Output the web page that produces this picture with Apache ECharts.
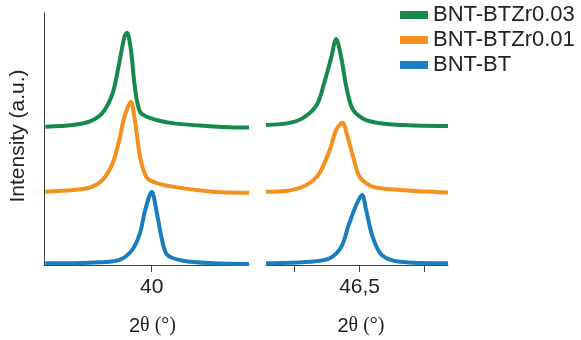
<!DOCTYPE html>
<html>
<head>
<meta charset="utf-8">
<script src="https://cdn.jsdelivr.net/npm/echarts@6/dist/echarts.min.js"></script>
<style>
  html, body { margin: 0; padding: 0; background: #fff; }
  #chart { width: 581px; height: 340px; }
</style>
</head>
<body>
<div id="chart"></div>
<script>
// Sample names, stacked top to bottom
const samples = ['BNT-BTZr0.03', 'BNT-BTZr0.01', 'BNT-BT'];
const colors = ['#168a4a', '#f4901e', '#1a7dbf'];
// Vertical offset applied to each pattern in the stack (a.u.)
const offsets = [54, 28, 0];

// Diffraction data around the (111) reflection: [2θ, intensity a.u.]
const peak111Zr003 = [[39.18,0.9],[39.39,1.6],[39.52,2.9],[39.62,6.3],[39.70,14.3],[39.75,26.2],[39.79,36.6],[39.81,38.2],[39.84,31.3],[39.87,16.8],[39.91,6.8],[39.99,4.3],[40.16,2.3],[40.42,1.2],[40.70,0.6],[40.75,0.6]];
const peak111Zr001 = [[39.18,1.1],[39.39,1.8],[39.52,2.7],[39.62,5.7],[39.70,12.5],[39.75,21.6],[39.79,30.8],[39.84,36.8],[39.87,29.5],[39.91,15.0],[39.96,6.9],[40.04,4.5],[40.22,2.6],[40.47,1.1],[40.73,0.7],[40.75,0.7]];
const peak111BT = [[39.18,0.7],[39.52,0.9],[39.75,2.0],[39.85,6.0],[39.91,12.7],[39.95,21.8],[40.00,29.1],[40.04,20.6],[40.08,9.9],[40.12,4.0],[40.24,1.7],[40.47,0.7],[40.75,0.4]];

// Diffraction data around the (200) reflection: [2θ, intensity a.u.]
const peak200Zr003 = [[45.78,1.6],[45.94,2.2],[46.06,4.2],[46.17,9.5],[46.23,18.7],[46.28,28.0],[46.32,35.7],[46.36,28.0],[46.40,16.1],[46.45,7.5],[46.55,3.5],[46.75,1.8],[47.18,1.2]];
const peak200Zr001 = [[45.78,1.1],[45.94,1.4],[46.09,3.7],[46.19,8.4],[46.27,17.6],[46.32,25.6],[46.37,28.5],[46.40,24.3],[46.45,15.0],[46.50,7.0],[46.60,3.1],[46.81,1.8],[47.18,0.8]];
const peak200BT = [[45.78,0.7],[46.12,1.3],[46.27,2.7],[46.36,7.3],[46.42,16.5],[46.48,24.5],[46.52,27.8],[46.55,21.8],[46.60,11.2],[46.67,4.0],[46.81,1.3],[47.18,0.7]];

const leftData = [peak111Zr003, peak111Zr001, peak111BT];
const rightData = [peak200Zr003, peak200Zr001, peak200BT];

// Axis ranges and ticks
const leftRange = [39.17, 40.75];
const rightRange = [45.78, 47.18];
const leftTicks = [40];
const leftLabels = [40];
const rightTicks = [46, 46.5, 47];
const rightLabels = [46.5];

const axisColor = '#444';
const sansFont = '"Liberation Sans", Arial, sans-serif';
const serifFont = '"Liberation Serif", "Times New Roman", serif';

function xAxisFor(gridIndex, range, ticks, labels, padLeft) {
  return {
    type: 'value',
    gridIndex: gridIndex,
    min: range[0],
    max: range[1],
    name: '{a|2}{b|θ (°)}',
    nameLocation: 'middle',
    nameGap: 51,
    nameTextStyle: {
      padding: [0, 0, 0, padLeft],
      rich: {
        a: { fontFamily: sansFont, fontSize: 20, color: '#222' },
        b: { fontFamily: serifFont, fontSize: 20, color: '#222' }
      }
    },
    axisLine: { show: true, lineStyle: { color: axisColor, width: 1 } },
    axisTick: { show: true, length: 7, customValues: ticks, lineStyle: { color: axisColor } },
    axisLabel: {
      show: true, customValues: labels, margin: 12,
      fontFamily: sansFont, fontSize: 21, color: '#222',
      formatter: v => String(v).replace('.', ',')
    },
    splitLine: { show: false }
  };
}

const series = [];
samples.forEach((name, i) => {
  [leftData[i], rightData[i]].forEach((pts, panel) => {
    series.push({
      name: name,
      type: 'line',
      xAxisIndex: panel,
      yAxisIndex: panel,
      data: pts.map(p => [p[0], p[1] + offsets[i]]),
      smooth: 0.3,
      showSymbol: false,
      symbol: 'none',
      clip: true,
      color: colors[i],
      lineStyle: { width: 4, color: colors[i], join: 'round', cap: 'butt' },
      z: 3 + i
    });
  });
});

const chart = echarts.init(document.getElementById('chart'), null, { renderer: 'canvas' });
chart.setOption({
  animation: false,
  backgroundColor: '#fff',
  grid: [
    { left: 44, top: 13, width: 205, height: 252, outerBoundsMode: 'none', containLabel: false },
    { left: 266, top: 13, width: 182, height: 252, outerBoundsMode: 'none', containLabel: false }
  ],
  legend: {
    data: samples,
    orient: 'vertical',
    left: 400,
    top: 4,
    padding: 0,
    itemGap: 3,
    itemWidth: 28,
    itemHeight: 8,
    icon: 'rect',
    textStyle: { fontFamily: sansFont, fontSize: 22, color: '#222' }
  },
  xAxis: [
    xAxisFor(0, leftRange, leftTicks, leftLabels, 12),
    xAxisFor(1, rightRange, rightTicks, rightLabels, 8)
  ],
  yAxis: [
    {
      type: 'value', gridIndex: 0, min: 0, max: 100,
      name: 'Intensity (a.u.)', nameLocation: 'middle', nameGap: 15,
      nameTextStyle: { fontFamily: sansFont, fontSize: 21, color: '#222', padding: [0, 0, 0, 6] },
      axisLine: { show: true, lineStyle: { color: axisColor, width: 1 } },
      axisTick: { show: false }, axisLabel: { show: false }, splitLine: { show: false }
    },
    {
      type: 'value', gridIndex: 1, min: 0, max: 100, show: false,
      splitLine: { show: false }
    }
  ],
  series: series
});
</script>
</body>
</html>
